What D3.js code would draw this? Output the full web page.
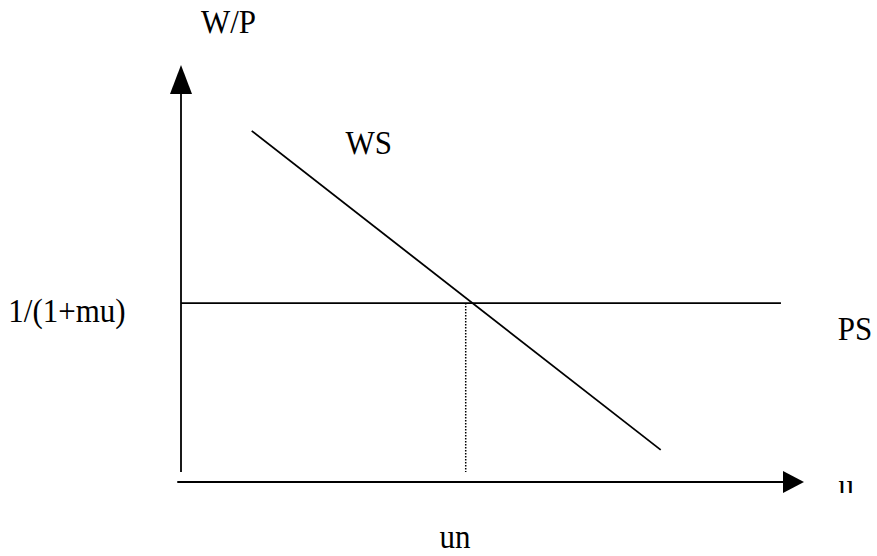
<!DOCTYPE html>
<html>
<head>
<meta charset="utf-8">
<script src="https://cdn.jsdelivr.net/npm/d3@7"></script>
<style>
html,body{margin:0;padding:0;background:#fff;}
svg{display:block;}
</style>
</head>
<body>
<svg id="chart" width="877" height="556"></svg>
<script>
// Conceptual diagram values (abstract units 0..100)
const axisX = [-0.6, 100];          // horizontal axis extent (u)
const axisY = [2.4, 100];           // vertical axis extent (W/P)
const wsLine = [{u: 11.35, w: 84.2}, {u: 77.0, w: 7.7}];   // wage-setting curve
const psLevel = 42.9;               // 1/(1+mu)
const psEnd = 96.3;
const unValue = 45.7;               // natural rate
const labels = {y: "W/P", x: "u", ws: "WS", ps: "PS", psLevel: "1/(1+mu)", un: "un"};

const FONT = "'Liberation Serif', 'Times New Roman', serif";
const svg = d3.select("#chart");
const x = d3.scaleLinear().domain([0, 100]).range([181, 804]);
const y = d3.scaleLinear().domain([0, 100]).range([482, 65]);

const line = d3.line().x(d => x(d.u)).y(d => y(d.w));
const SW = 1.8;

// y axis
svg.append("line").attr("x1", x(0)).attr("x2", x(0))
  .attr("y1", y(axisY[0])).attr("y2", y(axisY[1]) + 25)
  .attr("stroke", "#000").attr("stroke-width", SW);
svg.append("path")
  .attr("d", `M${x(0)},${y(axisY[1])} L${x(0)-11},${y(axisY[1])+29} L${x(0)+11},${y(axisY[1])+29} Z`)
  .attr("fill", "#000");

// x axis
svg.append("line").attr("x1", x(axisX[0])).attr("x2", x(axisX[1]) - 18)
  .attr("y1", y(0)).attr("y2", y(0))
  .attr("stroke", "#000").attr("stroke-width", SW);
svg.append("path")
  .attr("d", `M${x(axisX[1])},${y(0)} L${x(axisX[1])-21},${y(0)-11} L${x(axisX[1])-21},${y(0)+11} Z`)
  .attr("fill", "#000");

// PS line
svg.append("path").datum([{u: 0, w: psLevel}, {u: psEnd, w: psLevel}])
  .attr("d", line).attr("stroke", "#000").attr("stroke-width", SW).attr("fill", "none");

// WS line
svg.append("path").datum(wsLine)
  .attr("d", line).attr("stroke", "#000").attr("stroke-width", SW).attr("fill", "none");

// dotted vertical at un
svg.append("line").attr("x1", x(unValue)).attr("x2", x(unValue))
  .attr("y1", y(psLevel)).attr("y2", y(axisY[0]))
  .attr("stroke", "#000").attr("stroke-width", 1.5).attr("stroke-dasharray", "1.5,1.5");

// labels (slightly stretched vertically, as in the reference)
function label(txt, tx, ty, size) {
  return svg.append("text")
    .attr("transform", `translate(${tx},${ty}) scale(1,1.1)`)
    .attr("font-family", FONT).attr("font-size", size).attr("fill", "#000").text(txt);
}
label(labels.y, 201, 33.3, 31);
label(labels.ws, 345.5, 154, 31);
label(labels.psLevel, 8.3, 321.7, 31);
label(labels.ps, 837.8, 340, 31);
label(labels.un, 439.5, 547.5, 31);

// clipped "u"
svg.append("clipPath").attr("id", "uclip").append("rect")
  .attr("x", 820).attr("y", 470).attr("width", 57).attr("height", 23);
svg.append("g").attr("clip-path", "url(#uclip)")
  .append("text")
  .attr("transform", "translate(838.5,496.6) scale(1,1.1)")
  .attr("font-family", FONT).attr("font-size", 31).attr("fill", "#000").text(labels.x);
</script>
</body>
</html>
